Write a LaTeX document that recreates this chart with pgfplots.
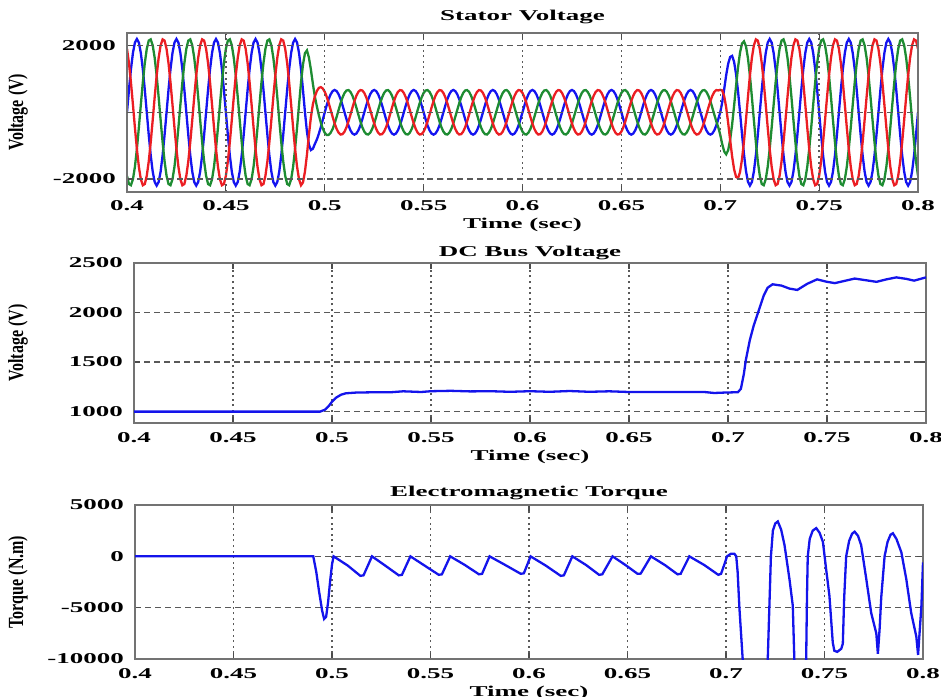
\documentclass[border=0pt]{standalone}
\usepackage{fontspec}
\setmainfont{Liberation Serif}[FakeStretch=1.8]
\newfontfamily\labfont{Liberation Serif}
\usepackage{graphicx}
\usepackage{pgfplots}
\usepackage{pgfplotstable}
\pgfplotsset{compat=1.18}
\definecolor{sblue}{RGB}{20,20,240}
\definecolor{sgreen}{RGB}{30,140,50}
\definecolor{sred}{RGB}{235,30,35}
\definecolor{lblue}{RGB}{20,20,235}
\newcommand\ylab[1]{\scalebox{1}[1.35]{#1}}

% three phase stator voltage, t b g r
\pgfplotstableread{
t b g r
0.400 0 -1905 1905
0.401 680 -2152 1472
0.402 1294 -2189 895
0.403 1780 -2011 231
0.404 2092 -1635 -458
0.405 2200 -1100 -1100
0.406 2092 -458 -1635
0.407 1780 231 -2011
0.408 1294 895 -2189
0.409 680 1472 -2152
0.410 0 1905 -1905
0.411 -680 2152 -1472
0.412 -1294 2189 -895
0.413 -1780 2011 -231
0.414 -2092 1635 458
0.415 -2200 1100 1100
0.416 -2092 458 1635
0.417 -1780 -231 2011
0.418 -1294 -895 2189
0.419 -680 -1472 2152
0.420 0 -1905 1905
0.421 680 -2152 1472
0.422 1294 -2189 895
0.423 1780 -2011 231
0.424 2092 -1635 -458
0.425 2200 -1100 -1100
0.426 2092 -458 -1635
0.427 1780 231 -2011
0.428 1294 895 -2189
0.429 680 1472 -2152
0.430 0 1905 -1905
0.431 -680 2152 -1472
0.432 -1294 2189 -895
0.433 -1780 2011 -231
0.434 -2092 1635 458
0.435 -2200 1100 1100
0.436 -2092 458 1635
0.437 -1780 -231 2011
0.438 -1294 -895 2189
0.439 -680 -1472 2152
0.440 0 -1905 1905
0.441 680 -2152 1472
0.442 1294 -2189 895
0.443 1780 -2011 231
0.444 2092 -1635 -458
0.445 2200 -1100 -1100
0.446 2092 -458 -1635
0.447 1780 231 -2011
0.448 1294 895 -2189
0.449 680 1472 -2152
0.450 0 1905 -1905
0.451 -680 2152 -1472
0.452 -1294 2189 -895
0.453 -1780 2011 -231
0.454 -2092 1635 458
0.455 -2200 1100 1100
0.456 -2092 458 1635
0.457 -1780 -231 2011
0.458 -1294 -895 2189
0.459 -680 -1472 2152
0.460 0 -1905 1905
0.461 680 -2152 1472
0.462 1294 -2189 895
0.463 1780 -2011 231
0.464 2092 -1635 -458
0.465 2200 -1100 -1100
0.466 2092 -458 -1635
0.467 1780 231 -2011
0.468 1294 895 -2189
0.469 680 1472 -2152
0.470 0 1905 -1905
0.471 -680 2152 -1472
0.472 -1294 2189 -895
0.473 -1780 2011 -231
0.474 -2092 1635 458
0.475 -2200 1100 1100
0.476 -2092 458 1635
0.477 -1780 -231 2011
0.478 -1294 -895 2189
0.479 -680 -1472 2152
0.480 0 -1905 1905
0.481 680 -2152 1472
0.482 1294 -2189 895
0.483 1780 -2011 231
0.484 2092 -1635 -458
0.485 2200 -1100 -1100
0.486 2092 -458 -1635
0.487 1780 231 -2011
0.488 1294 895 -2189
0.489 664 1438 -2103
0.490 0 1775 -1775
0.491 -587 1858 -1271
0.492 -970 1642 -672
0.493 -1133 1280 -147
0.494 -1094 854 239
0.495 -950 475 475
0.496 -818 179 639
0.497 -647 -84 731
0.498 -447 -309 756
0.499 -226 -488 714
0.500 0 -615 615
0.501 215 -680 465
0.502 400 -677 277
0.503 542 -612 70
0.504 637 -498 -139
0.505 670 -335 -335
0.506 637 -139 -498
0.507 542 70 -612
0.508 394 273 -667
0.509 207 448 -655
0.510 0 580 -580
0.511 -207 655 -448
0.512 -394 667 -273
0.513 -542 612 -70
0.514 -637 498 139
0.515 -670 335 335
0.516 -637 139 498
0.517 -542 -70 612
0.518 -394 -273 667
0.519 -207 -448 655
0.520 0 -580 580
0.521 207 -655 448
0.522 394 -667 273
0.523 542 -612 70
0.524 637 -498 -139
0.525 670 -335 -335
0.526 637 -139 -498
0.527 542 70 -612
0.528 394 273 -667
0.529 207 448 -655
0.530 0 580 -580
0.531 -207 655 -448
0.532 -394 667 -273
0.533 -542 612 -70
0.534 -637 498 139
0.535 -670 335 335
0.536 -637 139 498
0.537 -542 -70 612
0.538 -394 -273 667
0.539 -207 -448 655
0.540 0 -580 580
0.541 207 -655 448
0.542 394 -667 273
0.543 542 -612 70
0.544 637 -498 -139
0.545 670 -335 -335
0.546 637 -139 -498
0.547 542 70 -612
0.548 394 273 -667
0.549 207 448 -655
0.550 0 580 -580
0.551 -207 655 -448
0.552 -394 667 -273
0.553 -542 612 -70
0.554 -637 498 139
0.555 -670 335 335
0.556 -637 139 498
0.557 -542 -70 612
0.558 -394 -273 667
0.559 -207 -448 655
0.560 0 -580 580
0.561 207 -655 448
0.562 394 -667 273
0.563 542 -612 70
0.564 637 -498 -139
0.565 670 -335 -335
0.566 637 -139 -498
0.567 542 70 -612
0.568 394 273 -667
0.569 207 448 -655
0.570 0 580 -580
0.571 -207 655 -448
0.572 -394 667 -273
0.573 -542 612 -70
0.574 -637 498 139
0.575 -670 335 335
0.576 -637 139 498
0.577 -542 -70 612
0.578 -394 -273 667
0.579 -207 -448 655
0.580 0 -580 580
0.581 207 -655 448
0.582 394 -667 273
0.583 542 -612 70
0.584 637 -498 -139
0.585 670 -335 -335
0.586 637 -139 -498
0.587 542 70 -612
0.588 394 273 -667
0.589 207 448 -655
0.590 0 580 -580
0.591 -207 655 -448
0.592 -394 667 -273
0.593 -542 612 -70
0.594 -637 498 139
0.595 -670 335 335
0.596 -637 139 498
0.597 -542 -70 612
0.598 -394 -273 667
0.599 -207 -448 655
0.600 0 -580 580
0.601 207 -655 448
0.602 394 -667 273
0.603 542 -612 70
0.604 637 -498 -139
0.605 670 -335 -335
0.606 637 -139 -498
0.607 542 70 -612
0.608 394 273 -667
0.609 207 448 -655
0.610 0 580 -580
0.611 -207 655 -448
0.612 -394 667 -273
0.613 -542 612 -70
0.614 -637 498 139
0.615 -670 335 335
0.616 -637 139 498
0.617 -542 -70 612
0.618 -394 -273 667
0.619 -207 -448 655
0.620 0 -580 580
0.621 207 -655 448
0.622 394 -667 273
0.623 542 -612 70
0.624 637 -498 -139
0.625 670 -335 -335
0.626 637 -139 -498
0.627 542 70 -612
0.628 394 273 -667
0.629 207 448 -655
0.630 0 580 -580
0.631 -207 655 -448
0.632 -394 667 -273
0.633 -542 612 -70
0.634 -637 498 139
0.635 -670 335 335
0.636 -637 139 498
0.637 -542 -70 612
0.638 -394 -273 667
0.639 -207 -448 655
0.640 0 -580 580
0.641 207 -655 448
0.642 394 -667 273
0.643 542 -612 70
0.644 637 -498 -139
0.645 670 -335 -335
0.646 637 -139 -498
0.647 542 70 -612
0.648 394 273 -667
0.649 207 448 -655
0.650 0 580 -580
0.651 -207 655 -448
0.652 -394 667 -273
0.653 -542 612 -70
0.654 -637 498 139
0.655 -670 335 335
0.656 -637 139 498
0.657 -542 -70 612
0.658 -394 -273 667
0.659 -207 -448 655
0.660 0 -580 580
0.661 207 -655 448
0.662 394 -667 273
0.663 542 -612 70
0.664 637 -498 -139
0.665 670 -335 -335
0.666 637 -139 -498
0.667 542 70 -612
0.668 394 273 -667
0.669 207 448 -655
0.670 0 580 -580
0.671 -207 655 -448
0.672 -394 667 -273
0.673 -542 612 -70
0.674 -637 498 139
0.675 -670 335 335
0.676 -637 139 498
0.677 -542 -70 612
0.678 -394 -273 667
0.679 -207 -448 655
0.680 0 -580 580
0.681 207 -655 448
0.682 394 -667 273
0.683 542 -612 70
0.684 637 -498 -139
0.685 670 -335 -335
0.686 637 -139 -498
0.687 542 70 -612
0.688 394 273 -667
0.689 207 448 -655
0.690 0 580 -580
0.691 -207 655 -448
0.692 -394 667 -273
0.693 -542 612 -70
0.694 -637 498 139
0.695 -670 335 335
0.696 -637 139 498
0.697 -542 -70 612
0.698 -394 -273 667
0.699 -207 -448 655
0.700 0 -675 675
0.701 303 -958 656
0.702 694 -1174 480
0.703 1116 -1261 145
0.704 1455 -1137 -318
0.705 1660 -830 -830
0.706 1693 -370 -1323
0.707 1513 196 -1709
0.708 1147 794 -1940
0.709 624 1351 -1976
0.710 0 1793 -1793
0.711 -652 2064 -1412
0.712 -1258 2129 -871
0.713 -1756 1983 -228
0.714 -2083 1627 456
0.715 -2200 1100 1100
0.716 -2092 458 1635
0.717 -1780 -231 2011
0.718 -1294 -895 2189
0.719 -680 -1472 2152
0.720 0 -1905 1905
0.721 680 -2152 1472
0.722 1294 -2189 895
0.723 1780 -2011 231
0.724 2092 -1635 -458
0.725 2200 -1100 -1100
0.726 2092 -458 -1635
0.727 1780 231 -2011
0.728 1294 895 -2189
0.729 680 1472 -2152
0.730 0 1905 -1905
0.731 -680 2152 -1472
0.732 -1294 2189 -895
0.733 -1780 2011 -231
0.734 -2092 1635 458
0.735 -2200 1100 1100
0.736 -2092 458 1635
0.737 -1780 -231 2011
0.738 -1294 -895 2189
0.739 -680 -1472 2152
0.740 0 -1905 1905
0.741 680 -2152 1472
0.742 1294 -2189 895
0.743 1780 -2011 231
0.744 2092 -1635 -458
0.745 2200 -1100 -1100
0.746 2092 -458 -1635
0.747 1780 231 -2011
0.748 1294 895 -2189
0.749 680 1472 -2152
0.750 0 1905 -1905
0.751 -680 2152 -1472
0.752 -1294 2189 -895
0.753 -1780 2011 -231
0.754 -2092 1635 458
0.755 -2200 1100 1100
0.756 -2092 458 1635
0.757 -1780 -231 2011
0.758 -1294 -895 2189
0.759 -680 -1472 2152
0.760 0 -1905 1905
0.761 680 -2152 1472
0.762 1294 -2189 895
0.763 1780 -2011 231
0.764 2092 -1635 -458
0.765 2200 -1100 -1100
0.766 2092 -458 -1635
0.767 1780 231 -2011
0.768 1294 895 -2189
0.769 680 1472 -2152
0.770 0 1905 -1905
0.771 -680 2152 -1472
0.772 -1294 2189 -895
0.773 -1780 2011 -231
0.774 -2092 1635 458
0.775 -2200 1100 1100
0.776 -2092 458 1635
0.777 -1780 -231 2011
0.778 -1294 -895 2189
0.779 -680 -1472 2152
0.780 0 -1905 1905
0.781 680 -2152 1472
0.782 1294 -2189 895
0.783 1780 -2011 231
0.784 2092 -1635 -458
0.785 2200 -1100 -1100
0.786 2092 -458 -1635
0.787 1780 231 -2011
0.788 1294 895 -2189
0.789 680 1472 -2152
0.790 0 1905 -1905
0.791 -680 2152 -1472
0.792 -1294 2189 -895
0.793 -1780 2011 -231
0.794 -2092 1635 458
0.795 -2200 1100 1100
0.796 -2092 458 1635
0.797 -1780 -231 2011
0.798 -1294 -895 2189
0.799 -680 -1472 2152
0.800 0 -1905 1905
}\stator

\pgfplotsset{
  panel/.style={
    scale only axis, xmin=0.4, xmax=0.8,
    xtick={0.4,0.45,0.5,0.55,0.6,0.65,0.7,0.75,0.8},
    xticklabels={0.4,0.45,0.5,0.55,0.6,0.65,0.7,0.75,0.8},
    scaled x ticks=false, scaled y ticks=false,
    xmajorgrids, ymajorgrids,
    x grid style={black!65, dash pattern=on 1pt off 1.8pt, line width=0.7pt},
    y grid style={black!65, dash pattern=on 3pt off 2pt, line width=0.6pt},
    axis line style={black!55, line width=1pt},
    tick align=inside, major tick length=3pt,
    tick style={black!70, line width=0.6pt},
    tick label style={font=\bfseries\fontsize{7.5}{8}\selectfont},
    xticklabel style={yshift=-1pt},
    yticklabel style={xshift=-2pt},
    xlabel={Time (sec)},
    xlabel style={font=\bfseries\fontsize{7.5}{8}\selectfont, yshift=3pt},
    title style={font=\bfseries\fontsize{7.5}{8}\selectfont,
      at={(axis description cs:0.5,1)}, anchor=base, inner sep=0pt, yshift=-1.5pt},
    ylabel style={font=\labfont\bfseries\fontsize{8}{9}\selectfont,
      at={(axis description cs:0,0.5)}, anchor=center},
    every axis plot/.append style={line width=1.15pt},
  }
}

\begin{document}
\begin{tikzpicture}
\useasboundingbox (0,0) rectangle (470.5pt,-348pt);

% Stator voltage
\begin{axis}[panel, at={(63.5pt,-16.5pt)}, anchor=north west,
  width=395.5pt, height=79.3pt, axis on top,
  ymin=-2380, ymax=2380,
  ytick={-2000,2000}, yticklabels={-2000,2000},
  extra y ticks={0}, extra y tick labels={},
  extra y tick style={grid=major, major grid style={solid, black!60, line width=0.8pt}, major tick length=0pt},
  title={Stator Voltage}, title style={yshift=2pt},
  ylabel={\ylab{Voltage (V)}}, ylabel style={yshift=54.5pt}]
\addplot[sblue] table[x=t, y=b] {\stator};
\addplot[sgreen] table[x=t, y=g] {\stator};
\addplot[sred] table[x=t, y=r] {\stator};
\end{axis}

% DC bus voltage
\begin{axis}[panel, at={(67pt,-131.5pt)}, anchor=north west,
  width=396pt, height=80pt,
  ymin=885, ymax=2500,
  ytick={1000,1500,2000,2500}, yticklabels={1000,1500,2000,2500},
  title={DC Bus Voltage}, title style={yshift=-1pt},
  ylabel={\ylab{Voltage (V)}}, ylabel style={yshift=58pt}]
\addplot[lblue] coordinates {
(0.400,1000)(0.494,1000)(0.4965,1020)(0.4985,1060)(0.500,1100)(0.502,1140)
(0.5045,1170)(0.507,1185)(0.512,1192)(0.520,1195)(0.530,1196)(0.536,1205)
(0.545,1198)(0.550,1206)(0.560,1210)(0.570,1204)(0.580,1206)(0.590,1200)
(0.600,1206)(0.610,1200)(0.620,1208)(0.630,1200)(0.640,1205)(0.650,1198)
(0.660,1199)(0.670,1198)(0.680,1198)(0.688,1198)(0.693,1188)(0.698,1192)
(0.705,1196)(0.7065,1230)(0.708,1380)(0.709,1520)(0.711,1720)(0.713,1870)
(0.7155,2020)(0.718,2170)(0.720,2250)(0.7225,2285)(0.727,2272)(0.731,2242)
(0.735,2228)(0.740,2290)(0.745,2335)(0.750,2310)(0.754,2297)(0.759,2320)
(0.764,2343)(0.770,2325)(0.775,2310)(0.780,2335)(0.785,2355)(0.790,2340)
(0.794,2322)(0.800,2355)};
\end{axis}

% Electromagnetic torque
\begin{axis}[panel, at={(67.5pt,-252.5pt)}, anchor=north west,
  width=394pt, height=77pt,
  ymin=-10000, ymax=5000,
  ytick={-10000,-5000,0,5000}, yticklabels={-10000,-5000,0,5000},
  title={Electromagnetic Torque},
  ylabel={\ylab{Torque (N.m)}}, ylabel style={yshift=58.5pt}]
\addplot[lblue] coordinates {
(0.400,0)(0.4905,0)(0.492,-1500)(0.4935,-3500)(0.495,-5300)(0.496,-6100)
(0.497,-5900)(0.498,-4500)(0.499,-2500)(0.500,-800)(0.5008,0)
(0.5080,-900)(0.5144,-1900)(0.5160,-1850)(0.5203,0)
(0.5270,-900)(0.5339,-1850)(0.5355,-1800)(0.5398,0)
(0.5470,-900)(0.5542,-1800)(0.5558,-1750)(0.5600,0)
(0.5675,-850)(0.5746,-1750)(0.5762,-1700)(0.5800,0)
(0.5880,-850)(0.5958,-1700)(0.5974,-1650)(0.6008,0)
(0.6085,-900)(0.6161,-1900)(0.6177,-1850)(0.6220,0)
(0.6290,-850)(0.6356,-1800)(0.6372,-1750)(0.6424,0)
(0.6490,-850)(0.6551,-1700)(0.6567,-1680)(0.6619,0)
(0.6690,-850)(0.6754,-1750)(0.6770,-1700)(0.6814,0)
(0.6890,-850)(0.6961,-1800)(0.6975,-1700)(0.6995,-600)(0.7005,0)
(0.7025,250)(0.7042,260)(0.7052,0)(0.7059,-1500)(0.7068,-5000)(0.7085,-10100)
(0.7095,-13000)(0.7200,-13000)(0.7212,-10000)(0.7220,-5000)(0.7228,0)
(0.7238,2500)(0.7250,3200)(0.7263,3400)(0.7280,2600)(0.7297,1100)
(0.7322,-2200)(0.7339,-4800)(0.7347,-10100)(0.7355,-13000)(0.7395,-13000)
(0.7407,-10000)(0.7411,-4000)(0.7415,0)(0.7425,1700)(0.7440,2500)(0.7458,2750)
(0.7475,2300)(0.7492,1400)(0.7508,-1200)(0.7525,-3850)(0.7542,-8400)
(0.7550,-9200)(0.7565,-9300)(0.7585,-9000)(0.7593,-8500)(0.7600,-4000)
(0.7610,0)(0.7625,1500)(0.7640,2200)(0.7653,2400)(0.7670,2000)(0.7686,1100)
(0.7712,-2200)(0.7737,-5500)(0.7763,-7500)(0.7771,-9500)(0.7780,-7000)
(0.7788,-4000)(0.7805,0)(0.7820,1400)(0.7835,2100)(0.7847,2250)(0.7865,1700)
(0.7890,400)(0.7915,-2200)(0.7940,-5500)(0.7966,-7800)(0.7975,-9600)
(0.7992,-4800)(0.8000,-600)};
\end{axis}
\end{tikzpicture}
\end{document}
